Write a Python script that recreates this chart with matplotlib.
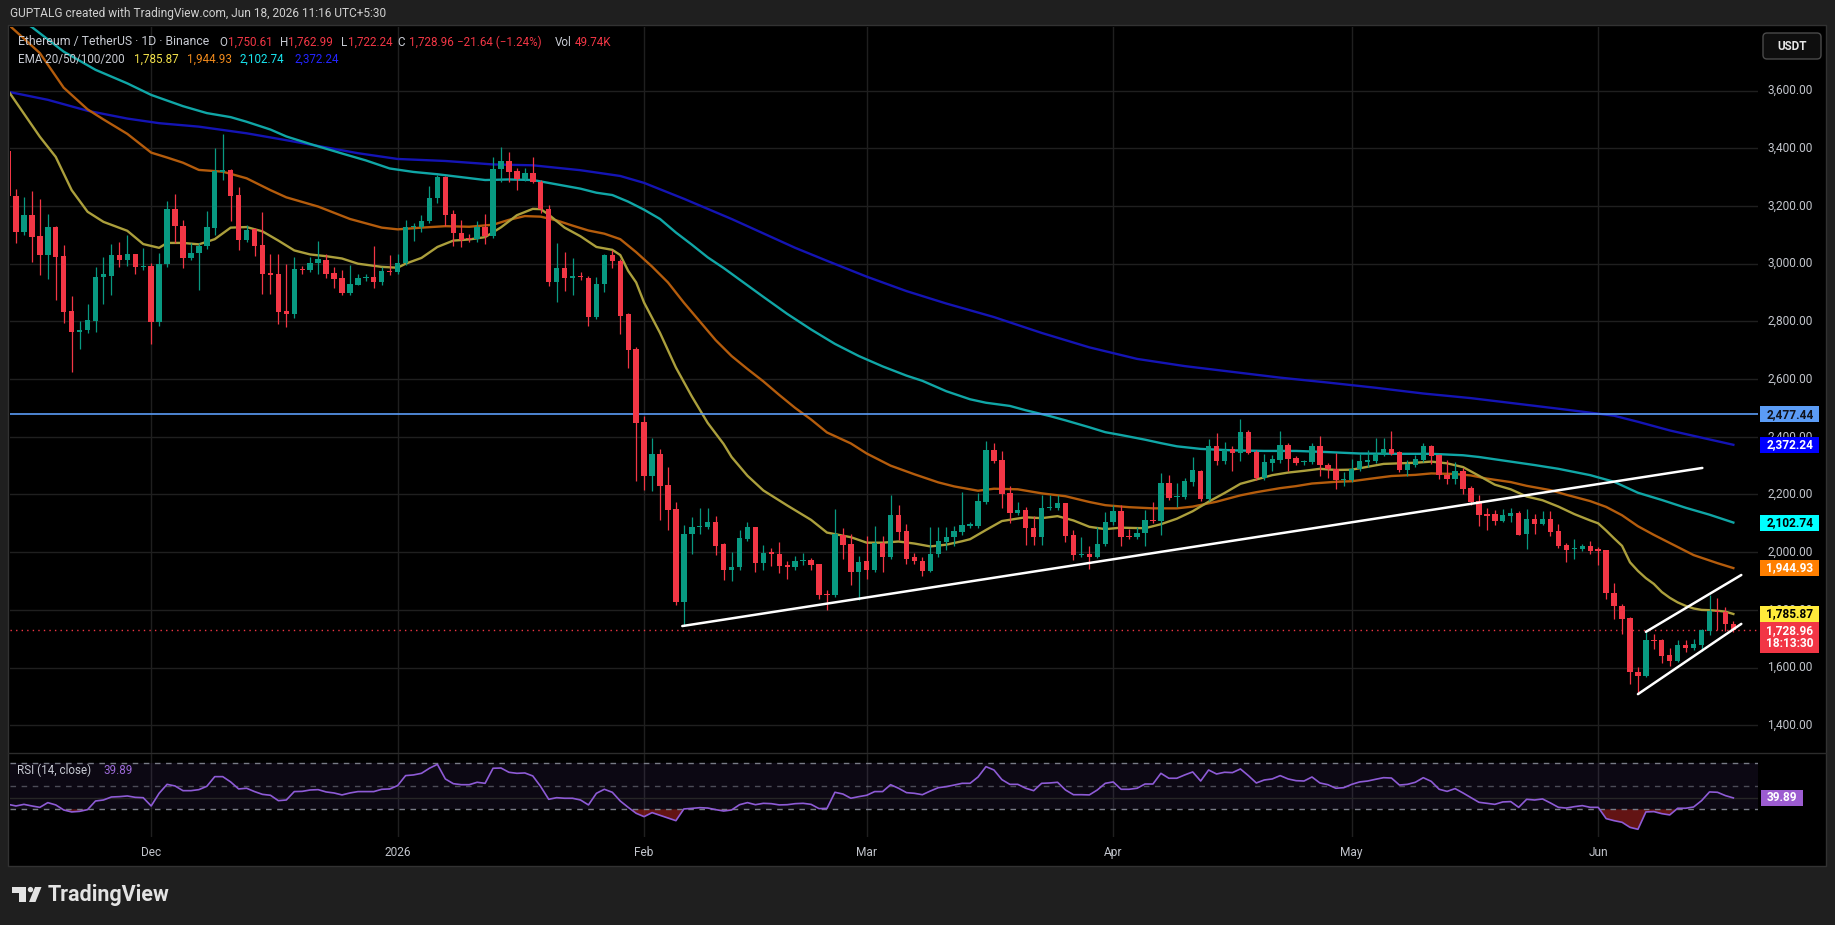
import matplotlib.pyplot as plt
import numpy as np
import pandas as pd
from matplotlib.patches import Rectangle, Polygon, Circle, FancyBboxPatch

plt.rcParams['font.family'] = ['Roboto', 'DejaVu Sans']

# ETH/USDT daily candles (13 Nov 2025 .. 18 Jun 2026)
start_date = "2025-11-13"

opens = [3390, 3235, 3111, 3169, 3096, 3030, 3128, 3026, 2836, 2764,
         2770, 2802, 2953, 2958, 3030, 3012, 3033, 2989, 2993, 2799,
         2998, 3189, 3132, 3020, 3038, 3062, 3125, 3318, 3324, 3238,
         3082, 3119, 3065, 2968, 2964, 2835, 2825, 2981, 2978, 3001,
         3012, 2966, 2951, 2900, 2927, 2951, 2954, 2935, 2974, 2970,
         3001, 3126, 3126, 3148, 3227, 3300, 3172, 3108, 3090, 3084,
         3128, 3097, 3327, 3356, 3321, 3292, 3313, 3284, 3191, 2936,
         2985, 2950, 2958, 2952, 2814, 2930, 3029, 3011, 2824, 2704,
         2452, 2264, 2342, 2233, 2150, 1826, 2063, 2089, 2089, 2104,
         2028, 1939, 1947, 2046, 2089, 1964, 1999, 1993, 1956, 1947,
         1970, 1974, 1960, 1855, 1850, 2060, 2029, 1930, 1968, 1939,
         2031, 1982, 2129, 2074, 1982, 1970, 1935, 1994, 2037, 2051,
         2071, 2092, 2092, 2175, 2354, 2319, 2204, 2137, 2146, 2085,
         2054, 2152, 2154, 2172, 2060, 1991, 1994, 1985, 2029, 2104,
         2143, 2057, 2054, 2066, 2112, 2108, 2239, 2190, 2193, 2245,
         2281, 2185, 2368, 2316, 2356, 2345, 2417, 2347, 2258, 2310,
         2319, 2371, 2325, 2312, 2312, 2368, 2301, 2287, 2249, 2250,
         2289, 2313, 2316, 2341, 2356, 2347, 2285, 2302, 2319, 2368,
         2337, 2269, 2254, 2281, 2221, 2177, 2131, 2131, 2107, 2125,
         2136, 2062, 2116, 2097, 2114, 2073, 2025, 2010, 2010, 2021,
         2010, 2007, 1858, 1815, 1772, 1586, 1571, 1695, 1694, 1642,
         1623, 1677, 1667, 1680, 1726, 1797, 1792, 1750.61]

highs = [3417, 3259, 3230, 3252, 3223, 3172, 3130, 3065, 2888, 2802,
         2860, 2990, 3024, 3068, 3076, 3099, 3035, 3055, 3001, 3038,
         3218, 3241, 3150, 3070, 3072, 3183, 3402, 3450, 3327, 3267,
         3134, 3125, 3178, 3033, 3033, 2999, 3022, 2993, 3022, 3080,
         3033, 2988, 2978, 2995, 2964, 2964, 3062, 2988, 3030, 3033,
         3150, 3140, 3170, 3269, 3308, 3303, 3186, 3150, 3102, 3149,
         3172, 3369, 3406, 3386, 3331, 3330, 3371, 3290, 3203, 3072,
         3039, 3020, 2970, 2959, 2954, 3035, 3049, 3017, 2828, 2712,
         2472, 2397, 2356, 2294, 2173, 2095, 2123, 2152, 2152, 2126,
         2031, 2002, 2077, 2106, 2089, 2025, 2014, 2037, 1968, 1987,
         1997, 1979, 1960, 1870, 2150, 2083, 2063, 1987, 2056, 2092,
         2056, 2198, 2164, 2097, 1997, 1985, 2089, 2089, 2089, 2092,
         2207, 2106, 2204, 2385, 2377, 2350, 2229, 2175, 2158, 2126,
         2198, 2198, 2198, 2172, 2077, 2051, 2023, 2089, 2141, 2164,
         2164, 2080, 2089, 2146, 2173, 2273, 2267, 2239, 2256, 2331,
         2284, 2391, 2412, 2382, 2368, 2461, 2422, 2353, 2342, 2336,
         2420, 2377, 2333, 2319, 2377, 2403, 2308, 2345, 2278, 2322,
         2341, 2353, 2395, 2395, 2420, 2351, 2318, 2337, 2377, 2370,
         2342, 2318, 2313, 2293, 2229, 2197, 2154, 2145, 2149, 2154,
         2142, 2149, 2131, 2142, 2142, 2097, 2031, 2045, 2030, 2038,
         2019, 2007, 1893, 1820, 1776, 1603, 1726, 1715, 1698, 1669,
         1694, 1694, 1700, 1734, 1853, 1842, 1811, 1762.99]

lows = [3232, 3073, 3100, 3007, 2960, 2946, 2874, 2793, 2625, 2705,
        2760, 2764, 2862, 2891, 2987, 2993, 2964, 2978, 2720, 2785,
        2989, 3070, 2985, 3012, 2908, 3050, 3099, 3290, 3149, 3047,
        3075, 3026, 2894, 2894, 2790, 2779, 2812, 2964, 2970, 2964,
        2950, 2914, 2891, 2890, 2925, 2940, 2914, 2925, 2960, 2965,
        2995, 3080, 3110, 3140, 3210, 3130, 3061, 3059, 3075, 3075,
        3068, 3090, 3284, 3284, 3256, 3285, 3280, 3174, 2921, 2867,
        2907, 2893, 2944, 2785, 2810, 2901, 2985, 2756, 2637, 2246,
        2217, 2211, 2112, 2077, 1818, 1743, 1994, 2063, 2080, 1991,
        1904, 1899, 1940, 2040, 1930, 1939, 1953, 1927, 1908, 1940,
        1956, 1937, 1839, 1800, 1845, 1977, 1887, 1835, 1908, 1930,
        1933, 1975, 2043, 1959, 1959, 1919, 1930, 1985, 2008, 2020,
        2060, 2085, 2085, 2167, 2310, 2152, 2100, 2130, 2025, 2025,
        2025, 2145, 2146, 2037, 1973, 1985, 1941, 1980, 2020, 2095,
        2020, 2045, 2045, 2023, 2100, 2060, 2180, 2158, 2185, 2230,
        2177, 2177, 2301, 2306, 2281, 2316, 2339, 2249, 2250, 2281,
        2310, 2281, 2301, 2301, 2304, 2264, 2258, 2220, 2229, 2245,
        2283, 2295, 2310, 2335, 2337, 2277, 2264, 2296, 2313, 2304,
        2254, 2235, 2237, 2202, 2162, 2090, 2076, 2094, 2105, 2105,
        2059, 2011, 2062, 2093, 2056, 2015, 1967, 1976, 2005, 1994,
        1956, 1839, 1770, 1718, 1543, 1508, 1566, 1665, 1615, 1606,
        1620, 1654, 1660, 1657, 1713, 1730, 1728, 1722.24]

closes = [3236, 3111, 3169, 3093, 3030, 3128, 3024, 2833, 2764, 2770,
          2806, 2955, 2963, 3030, 3012, 3033, 2989, 2993, 2799, 2998,
          3189, 3132, 3020, 3038, 3062, 3128, 3321, 3324, 3236, 3082,
          3117, 3061, 2964, 2962, 2833, 2825, 2981, 2978, 3001, 3015,
          2964, 2947, 2900, 2929, 2951, 2954, 2935, 2974, 2971, 3004,
          3126, 3131, 3148, 3227, 3300, 3169, 3107, 3082, 3084, 3128,
          3097, 3327, 3356, 3319, 3292, 3313, 3284, 3188, 2936, 2985,
          2950, 2956, 2955, 2814, 2930, 3029, 3008, 2820, 2702, 2449,
          2264, 2342, 2229, 2146, 1826, 2063, 2089, 2092, 2104, 2023,
          1939, 1950, 2048, 2089, 1964, 1997, 1993, 1953, 1947, 1970,
          1974, 1956, 1852, 1850, 2063, 2025, 1930, 1965, 1939, 2031,
          1982, 2129, 2071, 1977, 1968, 1935, 1994, 2039, 2054, 2074,
          2095, 2098, 2178, 2354, 2317, 2202, 2137, 2146, 2083, 2054,
          2154, 2158, 2172, 2057, 1991, 1994, 1985, 2029, 2104, 2143,
          2054, 2054, 2066, 2112, 2108, 2239, 2187, 2193, 2247, 2285,
          2185, 2368, 2316, 2353, 2345, 2417, 2345, 2258, 2312, 2322,
          2371, 2324, 2310, 2316, 2368, 2301, 2287, 2249, 2252, 2289,
          2316, 2319, 2341, 2356, 2342, 2285, 2304, 2324, 2368, 2333,
          2269, 2254, 2281, 2220, 2173, 2128, 2127, 2107, 2128, 2136,
          2061, 2116, 2097, 2114, 2071, 2021, 2008, 2015, 2021, 2004,
          2005, 1858, 1812, 1770, 1585, 1571, 1694, 1692, 1640, 1623,
          1677, 1667, 1683, 1729, 1797, 1792, 1750.61, 1728.96]

# EMA lines (candle index -> value)
ema20_day = [0, 2, 4, 6, 8, 10, 12, 15, 17, 19, 20, 22, 24, 26, 28, 30, 32, 34, 36, 38,
             40, 42, 44, 47, 49, 50, 52, 54, 56, 58, 60, 62, 64, 66, 67, 68, 70, 72, 74, 76,
             77, 78, 79, 80, 82, 84, 86, 88, 90, 91, 93, 95, 98, 101, 103, 106, 108, 110, 112, 114,
             116, 118, 120, 121, 123, 125, 128, 130, 132, 134, 136, 138, 140, 143, 145, 147, 149, 151, 153, 155,
             157, 159, 161, 163, 165, 167, 169, 171, 173, 175, 177, 179, 181, 183, 185, 187, 189, 191, 193, 195,
             197, 199, 200, 201, 202, 203, 204, 205, 206, 207, 208, 209, 210, 211, 212, 213, 214, 215, 216, 217]
ema20 = [3600, 3520, 3440, 3370, 3255, 3180, 3145, 3114, 3068, 3055, 3072, 3072, 3067, 3085, 3125, 3127, 3112, 3080, 3046, 3032,
         3026, 3018, 3000, 2989, 2986, 3000, 3020, 3058, 3080, 3084, 3092, 3126, 3168, 3190, 3189, 3170, 3125, 3095, 3058, 3048,
         3030, 2975, 2935, 2865, 2760, 2640, 2540, 2448, 2375, 2330, 2265, 2214, 2162, 2112, 2068, 2052, 2033, 2033, 2037, 2030,
         2020, 2026, 2038, 2045, 2077, 2108, 2121, 2118, 2125, 2110, 2088, 2080, 2085, 2083, 2097, 2116, 2142, 2175, 2205, 2237,
         2252, 2267, 2276, 2282, 2289, 2285, 2286, 2296, 2306, 2308, 2310, 2314, 2308, 2295, 2265, 2234, 2218, 2193, 2180, 2158,
         2132, 2110, 2100, 2075, 2048, 2022, 1965, 1935, 1910, 1890, 1862, 1842, 1826, 1814, 1805, 1800, 1799, 1797, 1794, 1785.87]

ema50_day = [0, 2, 4, 7, 10, 12, 15, 18, 20, 22, 24, 27, 30, 33, 35, 39, 43, 47, 49, 52,
             55, 58, 61, 63, 65, 67, 69, 71, 73, 75, 77, 79, 81, 83, 85, 87, 89, 91, 93, 95,
             97, 99, 101, 103, 106, 108, 111, 114, 117, 119, 122, 124, 127, 130, 133, 136, 138, 141, 144, 147,
             149, 152, 155, 157, 160, 162, 164, 167, 169, 172, 174, 177, 179, 182, 184, 186, 189, 191, 194, 196,
             199, 201, 203, 205, 207, 210, 212, 215, 217]
ema50 = [3830, 3780, 3730, 3610, 3535, 3500, 3450, 3385, 3368, 3350, 3325, 3319, 3296, 3255, 3230, 3198, 3155, 3125, 3119, 3125,
         3130, 3128, 3135, 3152, 3165, 3163, 3150, 3132, 3115, 3104, 3085, 3040, 2990, 2935, 2865, 2800, 2735, 2680, 2635, 2592,
         2545, 2500, 2460, 2415, 2377, 2342, 2300, 2270, 2242, 2228, 2213, 2220, 2218, 2204, 2194, 2174, 2163, 2156, 2152, 2152,
         2158, 2175, 2197, 2208, 2222, 2229, 2238, 2244, 2246, 2257, 2264, 2268, 2273, 2271, 2266, 2255, 2243, 2230, 2215, 2199,
         2177, 2157, 2128, 2090, 2060, 2018, 1990, 1962, 1944.93]

ema100_day = [0, 3, 7, 11, 15, 18, 22, 25, 28, 30, 33, 35, 38, 42, 45, 48, 51, 54, 57, 60,
              63, 66, 69, 72, 74, 76, 78, 80, 82, 84, 86, 88, 90, 92, 95, 98, 101, 104, 107, 110,
              113, 115, 118, 121, 123, 126, 128, 131, 133, 136, 138, 140, 143, 145, 147, 150, 154, 158, 162, 166,
              170, 175, 179, 183, 185, 188, 192, 195, 199, 202, 205, 208, 211, 214, 217]
ema100 = [3870, 3820, 3735, 3672, 3625, 3585, 3546, 3522, 3508, 3492, 3465, 3441, 3415, 3382, 3358, 3330, 3318, 3310, 3300, 3290,
          3292, 3290, 3275, 3260, 3246, 3238, 3215, 3187, 3155, 3108, 3066, 3022, 2985, 2945, 2885, 2826, 2772, 2722, 2680, 2644,
          2612, 2594, 2558, 2530, 2518, 2507, 2492, 2472, 2457, 2433, 2416, 2406, 2390, 2378, 2367, 2358, 2353, 2351, 2351, 2347,
          2342, 2341, 2341, 2336, 2330, 2318, 2302, 2289, 2267, 2244, 2206, 2181, 2154, 2130, 2102.74]

ema200_day = [0, 5, 10, 15, 19, 24, 30, 35, 39, 44, 49, 55, 61, 66, 72, 77, 80, 82, 85, 88,
              91, 95, 99, 103, 108, 113, 118, 124, 130, 136, 142, 148, 154, 160, 166, 172, 178, 184, 190, 196,
              200, 202, 205, 209, 213, 217]
ema200 = [3596, 3568, 3530, 3503, 3487, 3475, 3452, 3428, 3408, 3383, 3363, 3356, 3344, 3341, 3324, 3304, 3280, 3258, 3225, 3190,
          3155, 3105, 3055, 3010, 2955, 2905, 2862, 2815, 2760, 2710, 2670, 2645, 2625, 2605, 2588, 2570, 2550, 2534, 2514, 2494,
          2480, 2473, 2452, 2422, 2397, 2372.24]

# RSI(14) per candle
rsi = [34.3, 32.9, 34.3, 32.9, 31.7, 35.8, 33.8, 29.4, 27.7, 28.2,
       29.7, 37.2, 38.1, 40.7, 41.0, 41.6, 40.4, 40.1, 32.9, 43.9,
       51.7, 50.3, 46.2, 46.2, 47.1, 50.0, 58.4, 58.4, 53.8, 47.7,
       48.3, 45.4, 43.0, 42.2, 37.5, 38.1, 45.4, 45.6, 46.8, 47.1,
       45.1, 44.2, 42.5, 44.2, 45.4, 45.4, 45.4, 47.4, 47.7, 50.6,
       59.3, 59.9, 61.3, 65.7, 69.1, 56.4, 52.3, 51.4, 51.4, 53.5,
       52.6, 65.7, 65.9, 62.2, 61.3, 61.6, 59.0, 49.7, 38.7, 40.1,
       39.6, 39.6, 38.1, 33.8, 43.9, 47.4, 44.8, 37.2, 31.7, 26.5,
       23.6, 27.1, 24.8, 22.4, 20.1, 30.3, 30.8, 31.4, 31.1, 29.7,
       28.5, 29.4, 34.0, 35.8, 34.0, 35.2, 34.9, 33.8, 34.0, 34.9,
       35.2, 34.3, 30.6, 30.8, 44.8, 43.3, 39.6, 41.0, 42.2, 45.4,
       45.4, 51.4, 48.3, 44.5, 43.9, 42.7, 45.9, 48.8, 49.7, 51.1,
       52.6, 52.6, 58.1, 67.1, 64.2, 55.8, 51.7, 51.7, 48.3, 46.2,
       52.6, 52.9, 53.5, 46.8, 42.7, 42.7, 42.5, 46.8, 52.6, 53.8,
       47.4, 47.4, 48.3, 52.0, 52.0, 61.3, 57.0, 57.0, 59.9, 62.5,
       54.6, 64.2, 60.7, 62.2, 61.9, 65.1, 59.3, 52.9, 55.5, 56.4,
       59.3, 56.4, 54.9, 54.6, 58.1, 52.9, 51.4, 48.3, 48.8, 51.7,
       53.8, 54.6, 56.1, 57.5, 57.2, 51.1, 51.7, 53.5, 57.5, 54.3,
       47.4, 45.6, 48.0, 44.2, 40.1, 36.1, 35.2, 34.3, 36.4, 36.7,
       31.7, 38.7, 38.1, 39.0, 35.5, 31.7, 31.1, 32.3, 33.2, 31.7,
       31.7, 21.9, 20.1, 18.7, 14.3, 12.6, 27.7, 28.0, 26.2, 25.1,
       30.9, 30.9, 32.0, 37.5, 45.1, 44.8, 41.9, 39.89]

price_ticks = [1400, 1600, 1800, 2000, 2200, 2400, 2600, 2800, 3000, 3200, 3400, 3600]

# horizontal level and hand-drawn trend lines
level_price = 2477.44
last_price = 1728.96
trend_x, trend_y = [84.8, 213.1], [1744, 2292]
chan_low_x, chan_low_y = [205.0, 218.0], [1508, 1751.5]
chan_up_x, chan_up_y = [206.0, 218.0], [1724, 1921]

# price-scale tags: value, background, text colour
tags = [(2477.44, '#5b9cf6', '#10131c'),
        (2372.24, '#0000ff', 'white'),
        (2102.74, '#00ffff', 'black'),
        (1944.93, '#ff7f00', 'white'),
        (1785.87, '#ffeb3b', 'black')]

UP, DOWN = '#089981', '#f23645'
GRID = '#1f1f1f'
AXTXT = '#c2c5cc'

# ---- layout in pixels of the 1835x925 picture ----
W, H = 1835, 925
L, R = 10, 1758
MAIN_T, MAIN_B = 27, 752.5
RSI_T, RSI_B = 754, 837


def fig_rect(x0, y0, x1, y1):
    return [x0 / W, 1 - y1 / H, (x1 - x0) / W, (y1 - y0) / H]


fig = plt.figure(figsize=(W / 100, H / 100), dpi=100, facecolor='#1f1f1f')

bg = fig.add_axes([0, 0, 1, 1], zorder=0)
bg.set_xlim(0, W)
bg.set_ylim(H, 0)
bg.axis('off')
bg.add_patch(Rectangle((8, 25), 1818, 841, fc='black', ec='#323232', lw=1))
bg.plot([8, 1826], [753.2, 753.2], color='#2c2c2c', lw=1)

ax = fig.add_axes(fig_rect(L, MAIN_T, R, MAIN_B), zorder=1)
rax = fig.add_axes(fig_rect(L, RSI_T, R, RSI_B), zorder=1)
for a in (ax, rax):
    a.set_facecolor('none')
    a.set_xticks([])
    a.set_yticks([])
    for s in a.spines.values():
        s.set_visible(False)
    a.set_xlim(0.245, 220.1)
ax.set_ylim(1305.7, 3820.4)
rax.set_ylim(5.9, 78.1)

dates = pd.date_range(start_date, periods=len(closes), freq="D")
x = np.arange(len(closes))
month_pos = [i for i, d in enumerate(dates) if d.day == 1]
month_lab = [str(dates[i].year) if dates[i].month == 1 else dates[i].strftime('%b')
             for i in month_pos]

# grid
for p in price_ticks:
    ax.axhline(p, color=GRID, lw=1, zorder=0)
for m in month_pos:
    ax.axvline(m, color=GRID, lw=1, zorder=0)
    rax.axvline(m, color=GRID, lw=1, zorder=0)

# candles
o, h, l, c = map(np.array, (opens, highs, lows, closes))
col = np.where(c >= o, UP, DOWN)
ax.vlines(x, l, h, colors=col, lw=0.9, zorder=3)
ax.bar(x, np.maximum(np.abs(c - o), 3.5), bottom=np.minimum(o, c), width=0.68,
       color=col, lw=0, zorder=4)

# EMAs
ax.plot(ema200_day, ema200, color='#1414b4', lw=1.7, zorder=2)
ax.plot(ema100_day, ema100, color='#10a6a6', lw=1.7, zorder=2)
ax.plot(ema50_day, ema50, color='#b45c0c', lw=1.7, zorder=2)
ax.plot(ema20_day, ema20, color='#ab9f3c', lw=1.7, zorder=2)

# levels and drawings
ax.axhline(level_price, color='#5b9cf6', lw=1.2, zorder=2)
ax.axhline(last_price, color='#f23645', lw=1, ls=(0, (1, 3)), zorder=2)
for tx_, ty_ in ((trend_x, trend_y), (chan_low_x, chan_low_y), (chan_up_x, chan_up_y)):
    ax.plot(tx_, ty_, color='white', lw=1.8, solid_capstyle='round', zorder=5)

# price scale
yax = ax.get_yaxis_transform()
units_per_px = (3820.4 - 1305.7) / (MAIN_B - MAIN_T)
lab_x = (1790 - L) / (R - L)
box_x = (1760 - L) / (R - L)
box_w = 59 / (R - L)
half = 8 * units_per_px
for p in price_ticks:
    t = ax.text(lab_x, p, f"{p:,.2f}", transform=yax, ha='center', va='center',
                color=AXTXT, fontsize=8.6, zorder=6)
    t.set_clip_box(None)
    # a tag sitting on top of a grid label hides part of it, as on the screen
    cover = [v for v, _, _ in tags if abs(v - p) < 2 * half]
    if cover:
        v = cover[0]
        if p > v:
            keep = Rectangle((1.0, v + half), 0.05, 3 * half, transform=yax)
        else:
            keep = Rectangle((1.0, v - 4 * half), 0.05, 3 * half, transform=yax)
        t.set_clip_path(keep)
    else:
        t.set_clip_on(False)
for val, fc, tc in tags:
    ax.add_patch(Rectangle((box_x, val - half), box_w, 2 * half,
                           transform=yax, fc=fc, ec='none', clip_on=False, zorder=7))
    ax.text(lab_x, val, f"{val:,.2f}", transform=yax, ha='center', va='center',
            color=tc, fontsize=8.6, fontweight='bold', clip_on=False, zorder=8)
ax.add_patch(Rectangle((box_x, last_price - 23 * units_per_px), box_w, 31 * units_per_px,
                       transform=yax, fc='#f23645', ec='none', clip_on=False, zorder=7))
ax.text(lab_x, last_price, f"{last_price:,.2f}", transform=yax, ha='center', va='center',
        color='white', fontsize=8.6, fontweight='bold', clip_on=False, zorder=8)
ax.text(lab_x, last_price - 13.5 * units_per_px, "18:13:30", transform=yax, ha='center',
        va='center', color='white', fontsize=8.6, fontweight='bold', clip_on=False, zorder=8)

# RSI pane
rsi = np.array(rsi)
rax.axhspan(30, 70, color='#7e57c2', alpha=0.1, lw=0)
rax.axhline(40, color='#262626', lw=1)
for lvl, al in ((70, 1), (50, 0.6), (30, 1)):
    rax.axhline(lvl, color='#787b86', lw=1, ls=(0, (4, 4)), alpha=al)
rax.fill_between(x, rsi, 30, where=rsi < 30, interpolate=True, color='#c62828',
                 alpha=0.5, lw=0)
rax.plot(x, rsi, color='#8e5bd6', lw=1.2)
rax.add_patch(Rectangle(((1761 - L) / (R - L), rsi[-1] - 7.2), 42 / (R - L), 14.4,
                        transform=rax.get_yaxis_transform(), fc='#9c5cd0', ec='none',
                        clip_on=False))
rax.text((1782 - L) / (R - L), rsi[-1], f"{rsi[-1]:.2f}", transform=rax.get_yaxis_transform(),
         ha='center', va='center', color='white', fontsize=8.6, fontweight='bold', clip_on=False)

# time axis
for m, lab in zip(month_pos, month_lab):
    rax.text(m, -0.181, lab, transform=rax.get_xaxis_transform(), ha='center', va='center',
             color=AXTXT, fontsize=8.6, clip_on=False)

# overlay texts in pixel coordinates
ov = fig.add_axes([0, 0, 1, 1], zorder=5)
ov.set_xlim(0, W)
ov.set_ylim(H, 0)
ov.axis('off')
ov.patch.set_alpha(0)

ov.text(10, 14, "GUPTALG created with TradingView.com, Jun 18, 2026 11:16 UTC+5:30",
        color='#d0d0d0', fontsize=8.6, va='center')

GRAY, RED = '#c8cbd3', '#f23645'
ov.text(18, 42, "Ethereum / TetherUS · 1D · Binance", color=GRAY, fontsize=8.8, va='center')
line1 = [(219, "O", GRAY), (228, "1,750.61", RED),
         (280, "H", GRAY), (288, "1,762.99", RED),
         (341, "L", GRAY), (348, "1,722.24", RED),
         (397, "C", GRAY), (409, "1,728.96", RED),
         (457, "−21.64 (−1.24%)", RED),
         (555, "Vol", GRAY), (575, "49.74K", RED)]
line2 = [(18, "EMA 20/50/100/200", GRAY), (134, "1,785.87", '#f5e34a'),
         (187, "1,944.93", '#f08a1c'), (239, "2,102.74", '#18e6f0'),
         (294, "2,372.24", '#2424ff')]
for xs, txt, cl in line1:
    ov.text(xs, 42, txt, color=cl, fontsize=8.4, va='center')
for xs, txt, cl in line2:
    ov.text(xs, 59.5, txt, color=cl, fontsize=8.4, va='center')

ov.add_patch(FancyBboxPatch((1763, 33), 58, 26, boxstyle="round,pad=0,rounding_size=4",
                            fc='#0e0e0e', ec='#4a4a4a', lw=1))
ov.text(1792, 46.5, "USDT", color='#e6e6e6', fontsize=8.4, fontweight='bold',
        ha='center', va='center')

ov.text(17, 770, "RSI (14, close)", color=GRAY, fontsize=8.4, va='center')
ov.text(103, 770, "39.89", color='#9c6ad8', fontsize=8.4, va='center')

# TradingView logo
logo = '#e3e3e3'
ov.add_patch(Rectangle((12, 887), 14, 5.5, fc=logo, ec='none'))
ov.add_patch(Rectangle((19, 887), 7, 15, fc=logo, ec='none'))
ov.add_patch(Circle((30.5, 889.6), 2.7, fc=logo, ec='none'))
ov.add_patch(Polygon([(29, 902), (35.5, 902), (41.5, 887), (35, 887)], closed=True,
                     fc=logo, ec='none'))
ov.text(48, 895, "TradingView", color=logo, fontsize=15.5, fontweight='bold', va='center')

fig.savefig("out.png", dpi=100, facecolor=fig.get_facecolor())
